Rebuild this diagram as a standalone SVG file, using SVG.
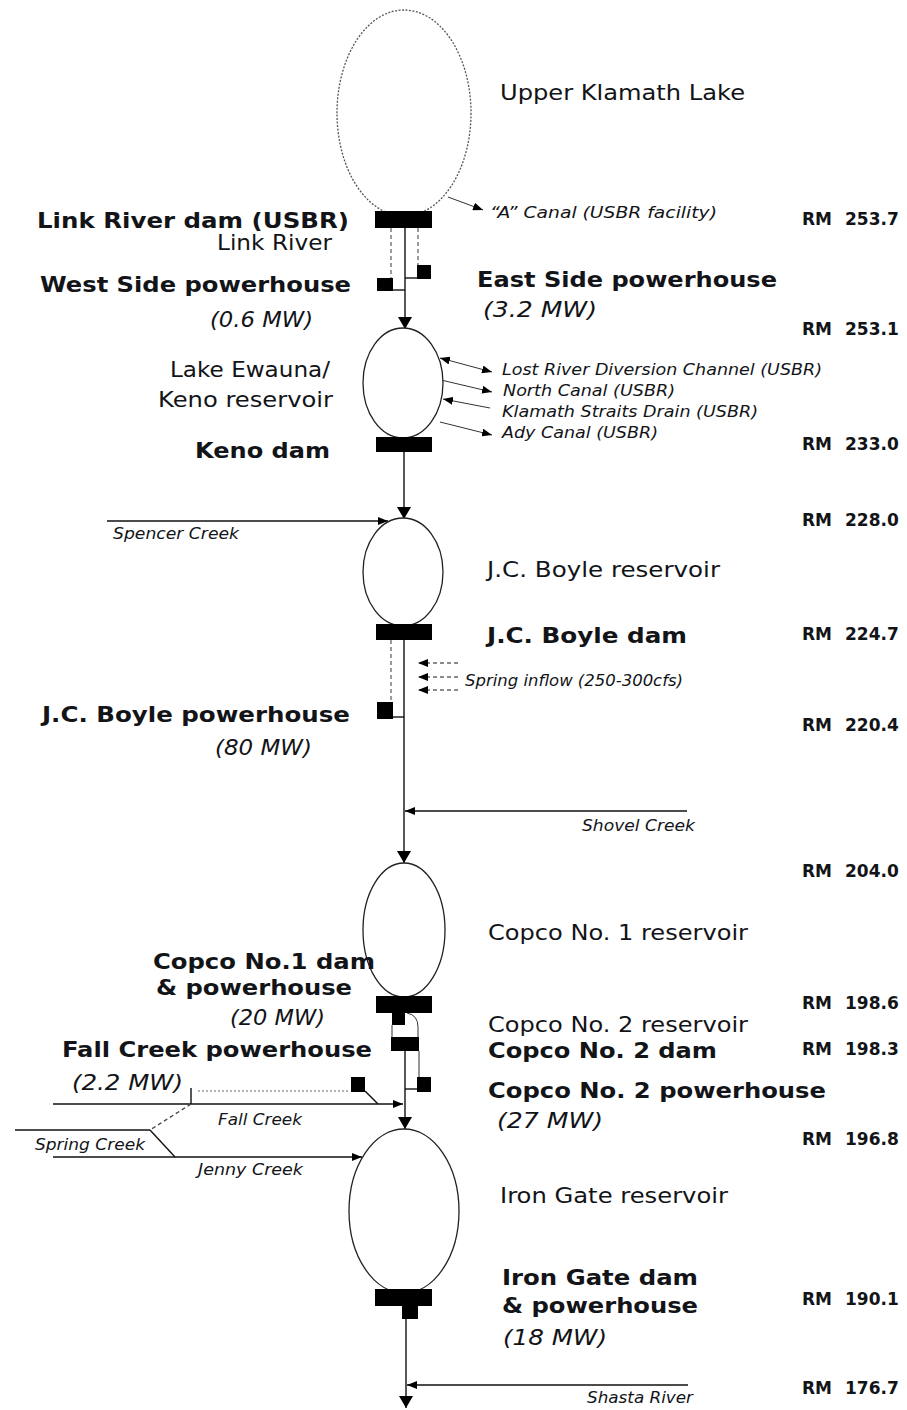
<svg xmlns="http://www.w3.org/2000/svg" width="907" height="1410" viewBox="0 0 907 1410">
<style>
text{font-family:"DejaVu Sans","Liberation Sans",sans-serif;fill:#121418}
.b{font-weight:bold;font-size:21px}
.r{font-size:21px}
.mw{font-style:italic;font-size:22px}
.s{font-style:italic;font-size:15px}
.rm{font-weight:bold;font-size:17px}
.lake{fill:#fff;stroke:#222;stroke-width:1.3}
.dam{fill:#000}
.ln{stroke:#111;stroke-width:1.4;fill:none}
.thin{stroke:#333;stroke-width:1;fill:none}
.dash{stroke:#666;stroke-width:1.3;stroke-dasharray:4 3;fill:none}
</style>
<defs>
<marker id="big" viewBox="0 0 12 14" refX="12" refY="7" markerWidth="12" markerHeight="14" markerUnits="userSpaceOnUse" orient="auto"><path d="M0,0 L12,7 L0,14 z" fill="#000"/></marker>
<marker id="sm" viewBox="0 0 10 8" refX="10" refY="4" markerWidth="10" markerHeight="8" markerUnits="userSpaceOnUse" orient="auto-start-reverse"><path d="M0,0 L10,4 L0,8 z" fill="#000"/></marker>
</defs>
<rect width="907" height="1410" fill="#fff"/>

<g id="connectors">
<line class="ln" x1="405" y1="228" x2="405" y2="329" marker-end="url(#big)"/>
<line class="dash" x1="391" y1="228" x2="391" y2="278"/>
<line class="dash" x1="418" y1="228" x2="418" y2="265"/>
<line class="ln" x1="393" y1="290" x2="405" y2="290"/>
<line class="ln" x1="405" y1="278" x2="418" y2="278"/>
<line class="thin" x1="448" y1="197" x2="483" y2="210" marker-end="url(#sm)"/>
<line class="thin" x1="440" y1="358" x2="492" y2="372" marker-start="url(#sm)" marker-end="url(#sm)"/>
<line class="thin" x1="441" y1="380" x2="492" y2="392" marker-end="url(#sm)"/>
<line class="thin" x1="490" y1="408" x2="443" y2="399" marker-end="url(#sm)"/>
<line class="thin" x1="440" y1="422" x2="492" y2="435" marker-end="url(#sm)"/>
<line class="ln" x1="404" y1="452" x2="404" y2="519" marker-end="url(#big)"/>
<line class="ln" x1="107" y1="521" x2="388" y2="521" marker-end="url(#sm)"/>
<line class="ln" x1="404" y1="640" x2="404" y2="863" marker-end="url(#big)"/>
<line class="dash" x1="391" y1="640" x2="391" y2="702"/>
<line class="ln" x1="393" y1="717" x2="404" y2="717"/>
<line class="dash" x1="458" y1="663" x2="418" y2="663" marker-end="url(#sm)"/>
<line class="dash" x1="458" y1="677" x2="418" y2="677" marker-end="url(#sm)"/>
<line class="dash" x1="458" y1="690" x2="418" y2="690" marker-end="url(#sm)"/>
<line class="ln" x1="687" y1="811" x2="405" y2="811" marker-end="url(#sm)"/>
<line class="thin" x1="392" y1="1025" x2="392" y2="1037"/>
<path class="thin" d="M407,1013 Q418,1015 418,1027 L418,1037"/>
<line class="ln" x1="405" y1="1051" x2="405" y2="1129" marker-end="url(#big)"/>
<line class="thin" x1="419" y1="1051" x2="419" y2="1077"/>
<line class="ln" x1="405" y1="1089" x2="417" y2="1089"/>
<line class="ln" x1="365" y1="1091" x2="378" y2="1104"/>
<line class="ln" x1="53" y1="1104" x2="403" y2="1104" marker-end="url(#sm)"/>
<line class="dash" x1="198" y1="1091" x2="350" y2="1091" style="stroke:#999;stroke-dasharray:2 2"/>
<line class="ln" x1="191" y1="1088" x2="191" y2="1104"/>
<line class="dash" x1="191" y1="1104" x2="150" y2="1130" style="stroke:#444"/>
<line class="ln" x1="15" y1="1130" x2="150" y2="1130"/>
<line class="ln" x1="150" y1="1130" x2="175" y2="1157"/>
<line class="ln" x1="53" y1="1157" x2="362" y2="1157" marker-end="url(#sm)"/>
<line class="ln" x1="406" y1="1319" x2="406" y2="1408" marker-end="url(#big)"/>
<line class="ln" x1="688" y1="1385" x2="407" y2="1385" marker-end="url(#sm)"/>
</g>

<g id="upper-klamath-lake">
<ellipse cx="404" cy="113" rx="67" ry="103" fill="#fff" stroke="#555" stroke-width="1.3" stroke-dasharray="2 1.5"/>
<text class="r" x="500" y="100" textLength="245" lengthAdjust="spacingAndGlyphs">Upper Klamath Lake</text>
</g>
<g id="link-river-dam">
<rect class="dam" x="375" y="211" width="57" height="17"/>
<text class="b" x="37" y="228" textLength="312" lengthAdjust="spacingAndGlyphs">Link River dam (USBR)</text>
<text class="r" x="217" y="250" textLength="115" lengthAdjust="spacingAndGlyphs">Link River</text>
<text class="s" x="490" y="218" textLength="227" lengthAdjust="spacingAndGlyphs">“A” Canal  (USBR facility)</text>
<text class="rm" y="225"><tspan x="802">RM</tspan><tspan x="845">253.7</tspan></text>
</g>
<g id="west-side-powerhouse">
<rect class="dam" x="377" y="278" width="16" height="13"/>
<text class="b" x="40" y="292" textLength="311" lengthAdjust="spacingAndGlyphs">West Side powerhouse</text>
<text class="mw" x="210" y="327" textLength="103" lengthAdjust="spacingAndGlyphs">(0.6 MW)</text>
</g>
<g id="east-side-powerhouse">
<rect class="dam" x="417" y="265" width="14" height="14"/>
<text class="b" x="477" y="287" textLength="300" lengthAdjust="spacingAndGlyphs">East Side powerhouse</text>
<text class="mw" x="483" y="317" textLength="114" lengthAdjust="spacingAndGlyphs">(3.2 MW)</text>
<text class="rm" y="335"><tspan x="802">RM</tspan><tspan x="845">253.1</tspan></text>
</g>
<g id="lake-ewauna">
<ellipse class="lake" cx="403" cy="383" rx="40" ry="55"/>
<text class="r" x="170" y="377" textLength="160" lengthAdjust="spacingAndGlyphs">Lake Ewauna/</text>
<text class="r" x="158" y="407" textLength="175" lengthAdjust="spacingAndGlyphs">Keno reservoir</text>
<text class="s" x="502" y="375" textLength="320" lengthAdjust="spacingAndGlyphs">Lost River Diversion Channel (USBR)</text>
<text class="s" x="503" y="396" textLength="172" lengthAdjust="spacingAndGlyphs">North Canal (USBR)</text>
<text class="s" x="502" y="417" textLength="256" lengthAdjust="spacingAndGlyphs">Klamath Straits Drain (USBR)</text>
<text class="s" x="502" y="438" textLength="156" lengthAdjust="spacingAndGlyphs">Ady Canal (USBR)</text>
</g>
<g id="keno-dam">
<rect class="dam" x="376" y="437" width="56" height="15"/>
<text class="b" x="195" y="458" textLength="135" lengthAdjust="spacingAndGlyphs">Keno dam</text>
<text class="rm" y="450"><tspan x="802">RM</tspan><tspan x="845">233.0</tspan></text>
</g>
<g id="spencer-creek">
<text class="s" x="113" y="539" textLength="126" lengthAdjust="spacingAndGlyphs">Spencer Creek</text>
<text class="rm" y="526"><tspan x="802">RM</tspan><tspan x="845">228.0</tspan></text>
</g>
<g id="jc-boyle-reservoir">
<ellipse class="lake" cx="403" cy="572" rx="40" ry="54"/>
<text class="r" x="487" y="577" textLength="233" lengthAdjust="spacingAndGlyphs">J.C. Boyle reservoir</text>
</g>
<g id="jc-boyle-dam">
<rect class="dam" x="376" y="624" width="56" height="16"/>
<text class="b" x="487" y="643" textLength="200" lengthAdjust="spacingAndGlyphs">J.C. Boyle dam</text>
<text class="rm" y="640"><tspan x="802">RM</tspan><tspan x="845">224.7</tspan></text>
<text class="s" x="465" y="686" textLength="218" lengthAdjust="spacingAndGlyphs">Spring inflow (250-300cfs)</text>
</g>
<g id="jc-boyle-powerhouse">
<rect class="dam" x="377" y="702" width="16" height="17"/>
<text class="b" x="42" y="722" textLength="308" lengthAdjust="spacingAndGlyphs">J.C. Boyle powerhouse</text>
<text class="mw" x="215" y="755" textLength="97" lengthAdjust="spacingAndGlyphs">(80 MW)</text>
<text class="rm" y="731"><tspan x="802">RM</tspan><tspan x="845">220.4</tspan></text>
</g>
<g id="shovel-creek">
<text class="s" x="582" y="831" textLength="113" lengthAdjust="spacingAndGlyphs">Shovel Creek</text>
<text class="rm" y="877"><tspan x="802">RM</tspan><tspan x="845">204.0</tspan></text>
</g>
<g id="copco-1-reservoir">
<ellipse class="lake" cx="404" cy="930" rx="41" ry="67"/>
<text class="r" x="488" y="940" textLength="260" lengthAdjust="spacingAndGlyphs">Copco No. 1 reservoir</text>
</g>
<g id="copco-1-dam">
<rect class="dam" x="376" y="996" width="56" height="17"/>
<rect class="dam" x="392" y="1013" width="13" height="12"/>
<text class="b" x="153" y="969" textLength="222" lengthAdjust="spacingAndGlyphs">Copco No.1 dam</text>
<text class="b" x="156" y="995" textLength="196" lengthAdjust="spacingAndGlyphs">&amp; powerhouse</text>
<text class="mw" x="230" y="1025" textLength="95" lengthAdjust="spacingAndGlyphs">(20 MW)</text>
<text class="rm" y="1009"><tspan x="802">RM</tspan><tspan x="845">198.6</tspan></text>
</g>
<g id="copco-2-dam">
<rect class="dam" x="391" y="1037" width="28" height="14"/>
<text class="r" x="488" y="1032" textLength="260" lengthAdjust="spacingAndGlyphs">Copco No. 2 reservoir</text>
<text class="b" x="488" y="1058" textLength="229" lengthAdjust="spacingAndGlyphs">Copco No. 2 dam</text>
<text class="rm" y="1055"><tspan x="802">RM</tspan><tspan x="845">198.3</tspan></text>
</g>
<g id="copco-2-powerhouse">
<rect class="dam" x="417" y="1077" width="14" height="15"/>
<text class="b" x="488" y="1098" textLength="338" lengthAdjust="spacingAndGlyphs">Copco No. 2 powerhouse</text>
<text class="mw" x="497" y="1128" textLength="106" lengthAdjust="spacingAndGlyphs">(27 MW)</text>
</g>
<g id="fall-creek-powerhouse">
<rect class="dam" x="351" y="1077" width="14" height="15"/>
<text class="b" x="62" y="1057" textLength="310" lengthAdjust="spacingAndGlyphs">Fall Creek powerhouse</text>
<text class="mw" x="72" y="1090" textLength="111" lengthAdjust="spacingAndGlyphs">(2.2 MW)</text>
<text class="s" x="218" y="1125" textLength="84" lengthAdjust="spacingAndGlyphs">Fall Creek</text>
<text class="s" x="35" y="1150" textLength="110" lengthAdjust="spacingAndGlyphs">Spring Creek</text>
<text class="s" x="198" y="1175" textLength="105" lengthAdjust="spacingAndGlyphs">Jenny Creek</text>
</g>
<g id="iron-gate-reservoir">
<ellipse class="lake" cx="404" cy="1211" rx="55" ry="82"/>
<text class="r" x="500" y="1203" textLength="228" lengthAdjust="spacingAndGlyphs">Iron Gate reservoir</text>
<text class="rm" y="1145"><tspan x="802">RM</tspan><tspan x="845">196.8</tspan></text>
</g>
<g id="iron-gate-dam">
<rect class="dam" x="375" y="1289" width="57" height="17"/>
<rect class="dam" x="402" y="1306" width="16" height="13"/>
<text class="b" x="502" y="1285" textLength="196" lengthAdjust="spacingAndGlyphs">Iron Gate dam</text>
<text class="b" x="502" y="1313" textLength="196" lengthAdjust="spacingAndGlyphs">&amp; powerhouse</text>
<text class="mw" x="503" y="1345" textLength="104" lengthAdjust="spacingAndGlyphs">(18 MW)</text>
<text class="rm" y="1305"><tspan x="802">RM</tspan><tspan x="845">190.1</tspan></text>
</g>
<g id="shasta-river">
<text class="s" x="587" y="1403" textLength="106" lengthAdjust="spacingAndGlyphs">Shasta River</text>
<text class="rm" y="1394"><tspan x="802">RM</tspan><tspan x="845">176.7</tspan></text>
</g>
</svg>
